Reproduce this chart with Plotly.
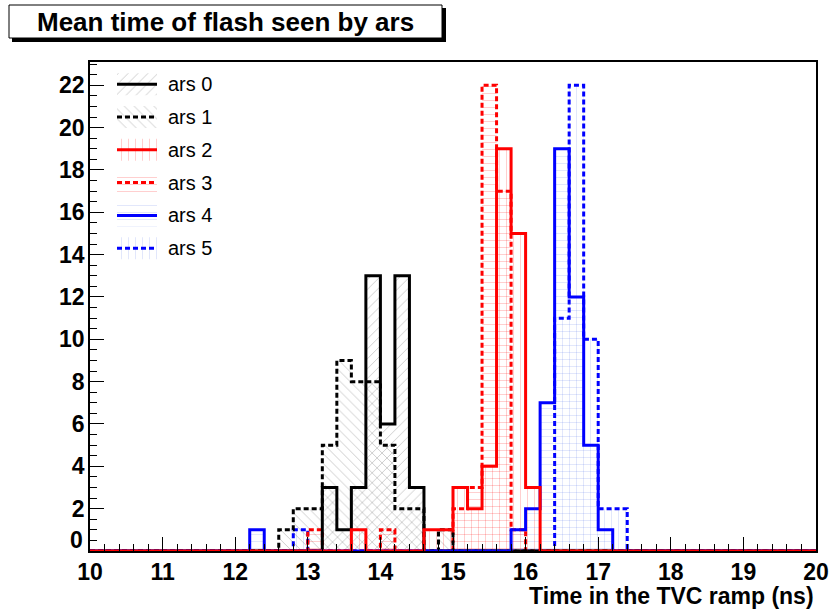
import plotly.graph_objects as go

# ---- data ----
x_min, x_max, bin_w = 10.0, 20.0, 0.2
n_bins = 50

series_names = ["ars 0", "ars 1", "ars 2", "ars 3", "ars 4", "ars 5"]

ars0_bins = [13.2, 13.4, 13.6, 13.8, 14.0, 14.2, 14.4]
ars0_counts = [3, 1, 3, 13, 6, 13, 3]

ars1_bins = [12.6, 12.8, 13.0, 13.2, 13.4, 13.6, 13.8, 14.0, 14.2, 14.4, 14.8]
ars1_counts = [1, 2, 2, 5, 9, 8, 8, 5, 2, 2, 1]

ars2_bins = [13.6, 14.6, 14.8, 15.0, 15.2, 15.4, 15.6, 15.8, 16.0]
ars2_counts = [1, 1, 1, 3, 2, 4, 19, 15, 3]

ars3_bins = [13.0, 14.0, 15.0, 15.2, 15.4, 15.6, 15.8]
ars3_counts = [1, 1, 2, 3, 22, 17, 1]

ars4_bins = [12.2, 15.8, 16.0, 16.2, 16.4, 16.6, 16.8, 17.0]
ars4_counts = [1, 1, 2, 7, 19, 12, 5, 1]

ars5_bins = [12.8, 16.4, 16.6, 16.8, 17.0, 17.2]
ars5_counts = [1, 11, 22, 10, 2, 2]

x_ticks = list(range(10, 21))
y_ticks = list(range(0, 23, 2))
# ROOT lifts the "0" label at the axis corner; it is drawn separately below
y_ticktext = ["" if v == 0 else str(v) for v in y_ticks]

title_text = "Mean time of flash seen by ars"
x_title = "Time in the TVC ramp (ns)"

# ---- styles ----
DASH = "5px,3px"
styles = [
    dict(color="black", dash="solid", pat="/", pcol="rgba(0,0,0,0.45)"),
    dict(color="black", dash=DASH, pat="\\", pcol="rgba(0,0,0,0.45)"),
    dict(color="#ff0000", dash="solid", pat="|", pcol="rgba(255,0,0,0.45)"),
    dict(color="#ff0000", dash=DASH, pat="-", pcol="rgba(255,0,0,0.45)"),
    dict(color="#0000ff", dash="solid", pat="-", pcol="rgba(60,90,230,0.35)"),
    dict(color="#0000ff", dash=DASH, pat="|", pcol="rgba(60,90,230,0.35)"),
]
draw_order = [5, 3, 0, 1, 4, 2]

edges = [round(x_min + i * bin_w, 1) for i in range(n_bins + 1)]


def full_counts(bins, counts):
    arr = [0] * n_bins
    for b, c in zip(bins, counts):
        arr[int(round((b - x_min) / bin_w))] = c
    return arr


all_series = [
    (ars0_bins, ars0_counts),
    (ars1_bins, ars1_counts),
    (ars2_bins, ars2_counts),
    (ars3_bins, ars3_counts),
    (ars4_bins, ars4_counts),
    (ars5_bins, ars5_counts),
]

# ---- page geometry (pixels) ----
W, H = 830, 611
L, R, T, B = 90, 816, 62, 551


def px_x(p):
    return (p - L) / (R - L)


def px_y(p):
    return (B - p) / (B - T)


fig = go.Figure()
for i in draw_order:
    b, c = all_series[i]
    st = styles[i]
    arr = full_counts(b, c)
    fig.add_trace(go.Scatter(
        x=edges, y=arr + [arr[-1]],
        mode="lines", line_shape="hv", name=series_names[i], showlegend=False,
        line=dict(color=st["color"], width=3, dash=st["dash"]),
        fill="tozeroy", fillcolor="rgba(0,0,0,0)",
        fillpattern=dict(shape=st["pat"], fgcolor=st["pcol"], bgcolor="rgba(0,0,0,0)",
                         size=7, solidity=0.12),
        cliponaxis=False, hoverinfo="skip",
    ))

# ---- custom legend (ROOT-style hatched keys), placed in pixel space ----
leg_x0, leg_x1, leg_text_x = 117, 157, 166
leg_row0, leg_dy, leg_half = 84.2, 32.8, 11
shapes = []
annotations = []
for i, name in enumerate(series_names):
    st = styles[i]
    yc = leg_row0 + leg_dy * i
    fig.add_trace(go.Scatter(
        x=[leg_x0, leg_x1, leg_x1, leg_x0, leg_x0],
        y=[yc - leg_half, yc - leg_half, yc + leg_half, yc + leg_half, yc - leg_half],
        xaxis="x2", yaxis="y2", mode="lines", line=dict(width=0),
        fill="toself", fillcolor="rgba(0,0,0,0)",
        fillpattern=dict(shape=st["pat"], fgcolor=st["pcol"], bgcolor="rgba(0,0,0,0)",
                         size=7, solidity=0.12),
        showlegend=False, hoverinfo="skip",
    ))
    shapes.append(dict(type="line", xref="x2", yref="y2", x0=leg_x0, x1=leg_x1, y0=yc, y1=yc,
                       line=dict(color=st["color"], width=3, dash=st["dash"])))
    annotations.append(dict(text=name, xref="x2", yref="y2", x=leg_text_x, y=yc,
                            xanchor="left", yanchor="middle", showarrow=False,
                            font=dict(family="Liberation Sans", size=20, color="black")))

font_b = dict(family="Liberation Sans", size=23, color="black", weight="bold")

shapes += [
    dict(type="rect", xref="paper", yref="paper",
         x0=px_x(12), x1=px_x(446), y0=px_y(42), y1=px_y(8),
         fillcolor="black", line=dict(width=0), layer="above"),
    dict(type="rect", xref="paper", yref="paper",
         x0=px_x(9), x1=px_x(442), y0=px_y(38), y1=px_y(5),
         fillcolor="white", line=dict(color="black", width=1), layer="above"),
]
annotations += [
    dict(text=title_text, xref="paper", yref="paper", x=px_x(225), y=px_y(22),
         xanchor="center", yanchor="middle", showarrow=False,
         font=dict(family="Liberation Sans", size=26, color="black", weight="bold")),
    dict(text=x_title, xref="paper", yref="paper", x=px_x(816), y=px_y(596),
         xanchor="right", yanchor="middle", showarrow=False, font=font_b),
    dict(text=str(y_ticks[0]), xref="paper", yref="paper", x=px_x(85), y=px_y(540),
         xanchor="right", yanchor="middle", showarrow=False, font=font_b),
]

fig.update_layout(
    width=W, height=H,
    margin=dict(l=L, r=W - R, t=T, b=H - B, autoexpand=False),
    paper_bgcolor="white", plot_bgcolor="white",
    showlegend=False,
    xaxis=dict(range=[x_min, x_max], tickvals=x_ticks, ticks="inside", ticklen=14,
               tickcolor="black", tickwidth=1, showline=True, linecolor="black",
               linewidth=1.5, mirror=True, showgrid=False, zeroline=False,
               tickfont=font_b,
               minor=dict(ticks="inside", dtick=bin_w, ticklen=7, tickcolor="black", showgrid=False)),
    yaxis=dict(range=[0, 23.1], tickvals=y_ticks, ticktext=y_ticktext, ticks="inside", ticklen=14,
               tickcolor="black", tickwidth=1, showline=True, linecolor="black",
               linewidth=1.5, mirror=True, showgrid=False, zeroline=False,
               tickfont=font_b, ticklabelstandoff=-1,
               minor=dict(ticks="inside", dtick=0.5, ticklen=7, tickcolor="black", showgrid=False)),
    xaxis2=dict(overlaying="x", anchor="y2", range=[L, R], visible=False, fixedrange=True),
    yaxis2=dict(overlaying="y", anchor="x2", range=[B, T], visible=False, fixedrange=True),
    shapes=shapes,
    annotations=annotations,
)

# remove the default 8px page margin so the figure sits at the window's top-left corner
fig.write_html("out.html", config={"displayModeBar": False},
               post_script="document.body.style.margin='0px';")
